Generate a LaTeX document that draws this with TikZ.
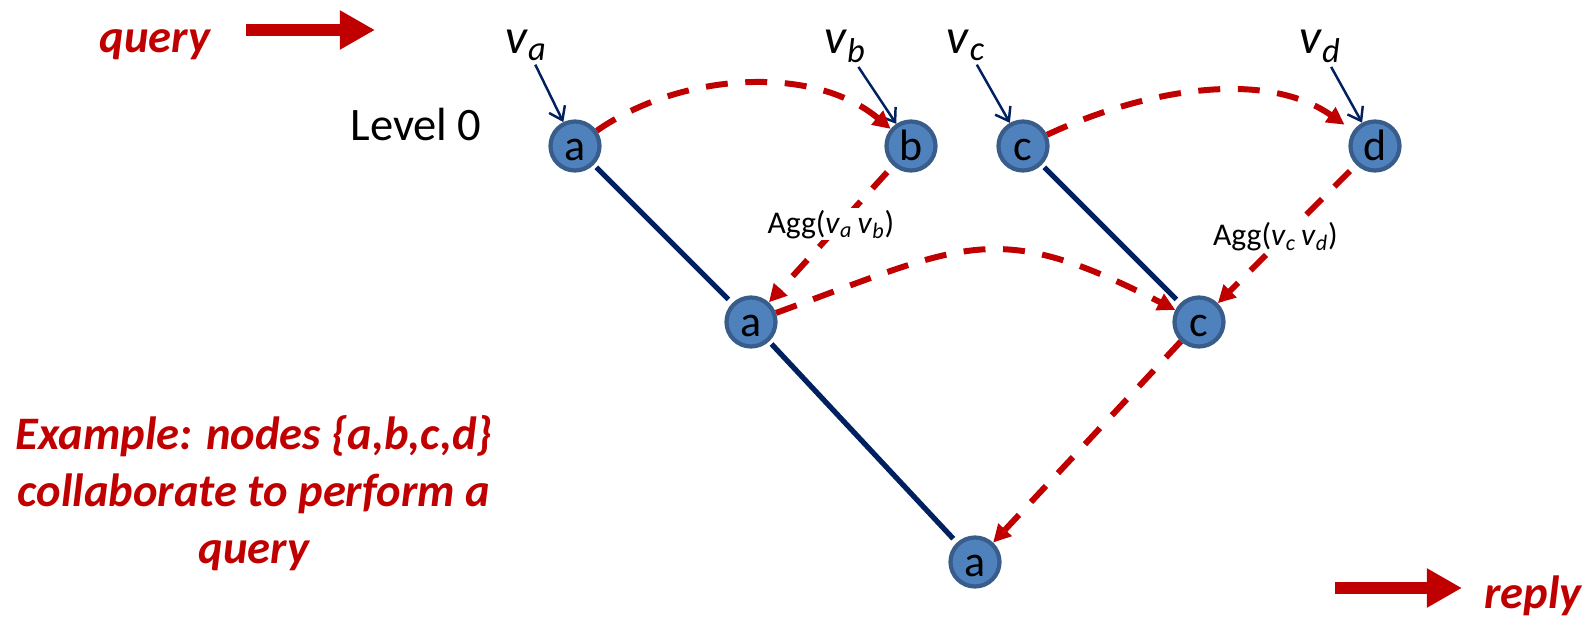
\documentclass[tikz,border=0pt]{standalone}
\usepackage{amsmath}
\usepackage{fontspec}
\setmainfont{Carlito}
\usetikzlibrary{arrows.meta, positioning, calc}

\definecolor{msgred}{HTML}{C00000}
\definecolor{nodefill}{HTML}{4F81BD}
\definecolor{nodeedge}{HTML}{385D8A}
\definecolor{treeblue}{HTML}{002060}

\begin{document}
\begin{tikzpicture}[
    >=Triangle,
    treenode/.style={circle, draw=nodeedge, line width=2.4pt, fill=nodefill, minimum size=0.98cm, inner sep=0pt, text height=16pt, text depth=0pt, font=\fontsize{25}{30}\selectfont},
    varlabel/.style={anchor=base, inner sep=2pt, font=\fontsize{28}{34}\selectfont},
    inarrow/.style={draw=treeblue, line width=1.4pt, -{Straight Barb[length=7pt,width=10pt]}},
    treeedge/.style={draw=treeblue, line width=3pt, shorten <=2pt, shorten >=3pt},
    msg/.style={draw=msgred, line width=3.4pt, dash pattern=on 12.5pt off 10pt, -{Triangle[length=10pt,width=10pt]}},
    bigarrow/.style={draw=msgred, line width=6.8pt, -{Triangle[length=20pt,width=21pt]}},
    redtext/.style={text=msgred, font=\fontsize{26.5}{32.4}\selectfont\bfseries\itshape},
    agglabel/.style={fill=white, inner sep=1pt, font=\fontsize{18}{22}\selectfont}
]
\useasboundingbox (0,0) rectangle (31.8,12.38);

% Y of the levels
\def\yTop{9.46}
\def\yMid{5.94}
\def\yBot{1.14}

% ---------- Legend ----------
\node[redtext, anchor=base] (query) at (3.10,11.32) {query};
\coordinate (q1) at (4.92,11.78);
\coordinate (q2) at (7.50,11.78);
\draw[bigarrow] (q1) -- (q2);

\node[redtext, anchor=base] (reply) at (30.66,0.22) {reply};
\coordinate (r1) at (26.70,0.62);
\coordinate (r2) at (29.24,0.62);
\draw[bigarrow] (r1) -- (r2);

\node[redtext, align=center] (example) at (5.08,2.52)
    {Example: nodes \{a,b,c,d\}\\collaborate to perform a\\query};

\node[anchor=base, font=\fontsize{26.5}{32}\selectfont] (level) at (8.32,9.56) {Level 0};

% ---------- Level 0 ----------
\node[treenode] (a0) at (11.50,\yTop) {a};
\node[treenode] (b0) at (18.22,\yTop) {b};
\node[treenode] (c0) at (20.46,\yTop) {c};
\node[treenode] (d0) at (27.50,\yTop) {d};

\node[varlabel] (va) at (10.52,11.30) {\textit{v}$_{\textit{a}}$};
\node[varlabel] (vb) at (16.90,11.30) {\textit{v}$_{\textit{b}}$};
\node[varlabel] (vc) at (19.32,11.30) {\textit{v}$_{\textit{c}}$};
\node[varlabel] (vd) at (26.40,11.30) {\textit{v}$_{\textit{d}}$};

\foreach \v/\n in {va/a0, vb/b0, vc/c0, vd/d0}
    \draw[inarrow] (\v) -- (\n);

% ---------- Level 1 and 2 ----------
\node[treenode] (a1) at (15.02,\yMid) {a};
\node[treenode] (c1) at (23.98,\yMid) {c};
\node[treenode] (a2) at (19.50,\yBot) {a};

% tree edges
\draw[treeedge] (a0) -- (a1);
\draw[treeedge] (c0) -- (c1);
\draw[treeedge] (a1) -- (a2);

% ---------- Messages ----------
\draw[msg] (a0) to[out=35, in=140, looseness=0.88] (b0);
\draw[msg, shorten >=6pt] (c0) to[out=25, in=145, looseness=0.9] (d0);

\draw[msg, shorten <=5pt] (b0) -- node[agglabel, pos=0.43, xshift=-5pt]
    {Agg(\textit{v}$_{\textit{a}}$\,\textit{v}$_{\textit{b}}$)} (a1);
\draw[msg, shorten <=5pt] (d0) -- node[agglabel, pos=0.52, xshift=-5pt]
    {Agg(\textit{v}$_{\textit{c}}$\,\textit{v}$_{\textit{d}}$)} (c1);

\draw[msg] (a1) to[out=20, in=153, looseness=1.3] (c1);
\draw[msg] (c1) -- (a2);

\end{tikzpicture}
\end{document}
